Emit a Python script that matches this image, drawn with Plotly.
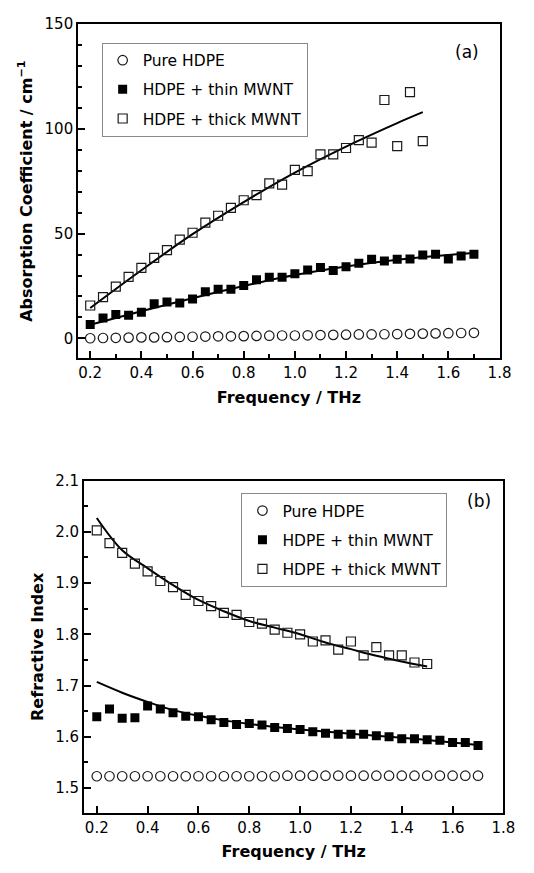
import plotly.graph_objects as go

# ---------------- data ----------------
freq = [0.20, 0.25, 0.30, 0.35, 0.40, 0.45, 0.50, 0.55, 0.60, 0.65, 0.70, 0.75,
        0.80, 0.85, 0.90, 0.95, 1.00, 1.05, 1.10, 1.15, 1.20, 1.25, 1.30, 1.35,
        1.40, 1.45, 1.50, 1.55, 1.60, 1.65, 1.70]
freq_thick = [0.20, 0.25, 0.30, 0.35, 0.40, 0.45, 0.50, 0.55, 0.60, 0.65, 0.70,
              0.75, 0.80, 0.85, 0.90, 0.95, 1.00, 1.05, 1.10, 1.15, 1.20, 1.25,
              1.30, 1.35, 1.40, 1.45, 1.50]

# (a) absorption coefficient / cm^-1
abs_pure = [0.1, 0.2, 0.3, 0.4, 0.5, 0.5, 0.6, 0.7, 0.8, 0.9, 1.0, 1.0, 1.1, 1.2,
            1.3, 1.4, 1.4, 1.5, 1.6, 1.7, 1.8, 1.9, 1.9, 2.0, 2.1, 2.2, 2.3, 2.4,
            2.5, 2.6, 2.7]
abs_thin = [6.7, 9.8, 11.4, 11.0, 12.5, 16.6, 17.4, 16.9, 18.8, 22.3, 23.5, 23.5,
            25.3, 28.0, 29.2, 29.2, 30.8, 32.6, 33.8, 32.4, 34.2, 35.8, 37.7, 36.9,
            37.7, 37.9, 39.8, 40.1, 37.9, 39.3, 40.2]
abs_thick = [15.7, 19.7, 24.7, 29.4, 33.6, 38.4, 42.1, 47.1, 50.4, 55.2, 58.5, 62.3,
             65.9, 68.3, 73.9, 73.3, 80.4, 79.8, 87.8, 87.8, 90.8, 94.6, 93.4, 113.7,
             91.7, 117.4, 94.1]
fit_abs_thin_x = [0.2, 0.4, 0.6, 0.8, 1.0, 1.2, 1.4, 1.6, 1.7]
fit_abs_thin_y = [6.5, 13.0, 19.2, 25.0, 30.2, 34.3, 37.5, 39.8, 40.7]
fit_abs_thick_x = [0.2, 0.4, 0.6, 0.8, 1.0, 1.2, 1.4, 1.5]
fit_abs_thick_y = [14.5, 32.5, 49.7, 65.0, 79.1, 91.5, 102.7, 107.9]

# (b) refractive index
n_pure = [1.523, 1.523, 1.523, 1.523, 1.523, 1.523, 1.523, 1.523, 1.523, 1.523,
          1.523, 1.523, 1.523, 1.523, 1.523, 1.524, 1.524, 1.524, 1.524, 1.524,
          1.524, 1.524, 1.524, 1.524, 1.524, 1.524, 1.524, 1.524, 1.524, 1.524, 1.524]
n_thin = [1.639, 1.654, 1.636, 1.637, 1.660, 1.654, 1.647, 1.640, 1.639, 1.633,
          1.628, 1.624, 1.626, 1.623, 1.618, 1.616, 1.614, 1.610, 1.607, 1.605,
          1.605, 1.605, 1.602, 1.600, 1.596, 1.596, 1.594, 1.593, 1.589, 1.589, 1.583]
n_thick = [2.003, 1.978, 1.959, 1.938, 1.923, 1.904, 1.892, 1.877, 1.865, 1.855,
           1.842, 1.838, 1.824, 1.821, 1.809, 1.803, 1.800, 1.786, 1.788, 1.770,
           1.786, 1.759, 1.775, 1.759, 1.759, 1.745, 1.742]
fit_n_thin_x = [0.2, 0.3, 0.4, 0.5, 0.6, 0.7, 0.8, 0.9, 1.0, 1.2, 1.4, 1.6, 1.7]
fit_n_thin_y = [1.707, 1.686, 1.668, 1.652, 1.641, 1.632, 1.625, 1.619, 1.614,
                1.606, 1.598, 1.589, 1.584]
fit_n_thick_x = [0.2, 0.3, 0.4, 0.5, 0.6, 0.7, 0.8, 0.9, 1.0, 1.1, 1.2, 1.3, 1.4, 1.5]
fit_n_thick_y = [2.027, 1.964, 1.929, 1.896, 1.867, 1.845, 1.826, 1.813, 1.800,
                 1.784, 1.771, 1.758, 1.747, 1.737]

names = ["Pure HDPE", "HDPE + thin MWNT", "HDPE + thick MWNT"]

# ---------------- figure ----------------
W, H = 534, 873
FONT = "DejaVu Sans, Verdana, sans-serif"
fig = go.Figure()

def markers(x, y, symbol, xa, ya, name, legend, group):
    is_open = symbol.endswith("-open")
    fig.add_trace(go.Scatter(
        x=x, y=y, mode="markers", name=name, xaxis=xa, yaxis=ya,
        legend=legend, legendgroup=group,
        marker=dict(symbol=symbol, size=9.5 if "circle" in symbol else 9,
                    color="#1a1a1a" if is_open else "black",
                    line=dict(color="#1a1a1a" if is_open else "black",
                              width=1.2 if is_open else 0))))

def fitline(x, y, xa, ya):
    fig.add_trace(go.Scatter(x=x, y=y, mode="lines", xaxis=xa, yaxis=ya,
                             line=dict(color="black", width=2, shape="spline"),
                             showlegend=False, hoverinfo="skip"))

# panel (a)
fitline(fit_abs_thin_x, fit_abs_thin_y, "x", "y")
fitline(fit_abs_thick_x, fit_abs_thick_y, "x", "y")
markers(freq, abs_pure, "circle-open", "x", "y", names[0], "legend", "a0")
markers(freq, abs_thin, "square", "x", "y", names[1], "legend", "a1")
markers(freq_thick, abs_thick, "square-open", "x", "y", names[2], "legend", "a2")

# panel (b)
fitline(fit_n_thin_x, fit_n_thin_y, "x2", "y2")
fitline(fit_n_thick_x, fit_n_thick_y, "x2", "y2")
markers(freq, n_pure, "circle-open", "x2", "y2", names[0], "legend2", "b0")
markers(freq, n_thin, "square", "x2", "y2", names[1], "legend2", "b1")
markers(freq_thick, n_thick, "square-open", "x2", "y2", names[2], "legend2", "b2")

def px(x):
    return x / W

def py(y):
    return 1 - y / H

axis_common = dict(showline=True, linewidth=2, linecolor="black", mirror=True,
                   ticks="inside", ticklen=7, tickwidth=1.5, tickcolor="black",
                   showgrid=False, zeroline=False,
                   tickfont=dict(family=FONT, size=15, color="black"))
title_font = dict(family=FONT, size=16, color="black", weight="bold")

leg_common = dict(font=dict(family=FONT, size=15.5, color="black"),
                  bgcolor="white", bordercolor="#8a8a8a", borderwidth=1,
                  xanchor="left", yanchor="top", tracegroupgap=6,
                  itemclick=False, itemdoubleclick=False)

fig.update_layout(
    width=W, height=H, margin=dict(l=0, r=0, t=0, b=0),
    paper_bgcolor="white", plot_bgcolor="white", showlegend=True,
    xaxis=dict(axis_common, domain=[px(80), px(511)], range=[0.153, 1.8],
               tick0=0.2, dtick=0.2, tickformat=".1f", anchor="y",
               minor=dict(ticks="inside", ticklen=4, tickwidth=1.5, dtick=0.1, tick0=0.1,
                          tickcolor="black"),
               title=dict(text="Frequency / THz", font=title_font, standoff=10)),
    yaxis=dict(axis_common, domain=[py(353), py(15)], range=[-9.5, 150],
               tick0=0, dtick=50, anchor="x",
               minor=dict(ticks="inside", ticklen=4, tickwidth=1.5, dtick=10, tick0=0,
                          tickcolor="black"),
               title=dict(text="Absorption Coefficient / cm<sup>−1</sup>",
                          font=title_font, standoff=8)),
    xaxis2=dict(axis_common, domain=[px(86), px(515)], range=[0.15, 1.8],
                tick0=0.2, dtick=0.2, tickformat=".1f", anchor="y2",
                title=dict(text="Frequency / THz", font=title_font, standoff=10)),
    yaxis2=dict(axis_common, domain=[py(812.5), py(476.5)], range=[1.451, 2.1],
                tick0=1.5, dtick=0.1, tickformat=".1f", anchor="x2",
                minor=dict(ticks="inside", ticklen=4, tickwidth=1.5, dtick=0.05,
                           tick0=1.5, tickcolor="black"),
                title=dict(text="Refractive Index", font=title_font, standoff=8)),
    legend=dict(leg_common, x=px(104), y=py(34)),
    legend2=dict(leg_common, x=px(247), y=py(489)),
    annotations=[
        dict(text="(a)", x=px(478), y=py(43), xref="paper", yref="paper",
             xanchor="center", yanchor="middle",
             showarrow=False, font=dict(family=FONT, size=17, color="black")),
        dict(text="(b)", x=px(490), y=py(497), xref="paper", yref="paper",
             xanchor="center", yanchor="middle",
             showarrow=False, font=dict(family=FONT, size=17, color="black")),
    ],
)

fig.write_html(
    "out.html",
    config={"displayModeBar": False},
    post_script=("document.body.style.margin='0';document.body.style.padding='0';"
                 "var d=document.getElementsByClassName('plotly-graph-div')[0];"
                 "d.style.position='absolute';d.style.left='0px';d.style.top='0px';"),
)
